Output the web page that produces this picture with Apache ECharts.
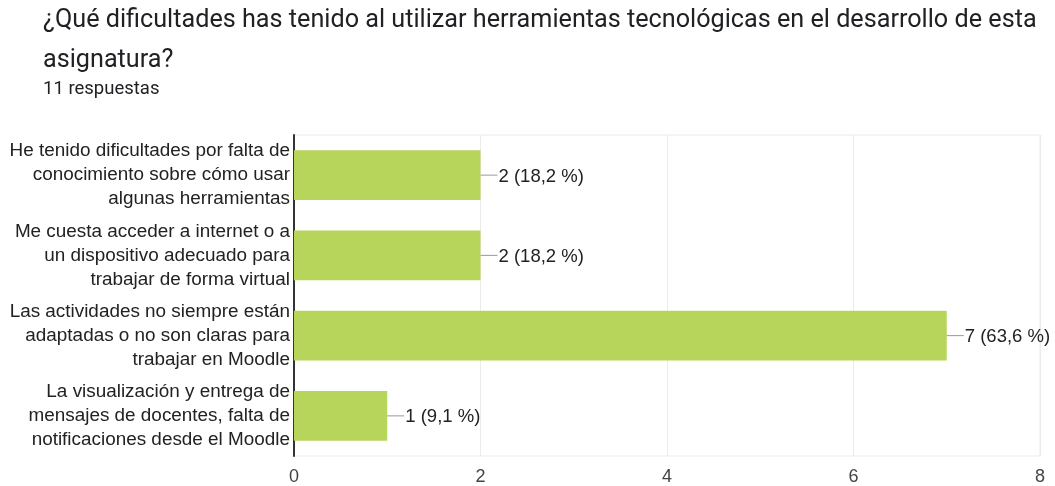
<!DOCTYPE html>
<html>
<head>
<meta charset="utf-8">
<script src="https://cdn.jsdelivr.net/npm/echarts@6/dist/echarts.min.js"></script>
<style>
  html, body { margin: 0; padding: 0; background: #fff; }
  #chart { width: 1055px; height: 486px; }
</style>
</head>
<body>
<div id="chart"></div>
<script>
// datos de la encuesta
var categorias = [
  'He tenido dificultades por falta de\nconocimiento sobre cómo usar\nalgunas herramientas',
  'Me cuesta acceder a internet o a\nun dispositivo adecuado para\ntrabajar de forma virtual',
  'Las actividades no siempre están\nadaptadas o no son claras para\ntrabajar en Moodle',
  'La visualización y entrega de\nmensajes de docentes, falta de\nnotificaciones desde el Moodle'
];
var respuestas = [2, 2, 7, 1];
var totalRespuestas = 11;
var ticksX = [0, 2, 4, 6, 8];

var myChart = echarts.init(document.getElementById('chart'));

var option = {
  animation: false,
  title: [
    {
      text: '¿Qué dificultades has tenido al utilizar herramientas tecnológicas en el desarrollo de esta\nasignatura?',
      left: 43,
      top: 1,
      padding: 0,
      textStyle: {
        fontFamily: 'Roboto',
        fontSize: 25.2,
        fontWeight: 'normal',
        color: '#202124',
        lineHeight: 40
      }
    },
    {
      text: totalRespuestas + ' respuestas',
      left: 43,
      top: 80,
      padding: 0,
      textStyle: {
        fontFamily: 'Roboto',
        fontSize: 18.5,
        fontWeight: 'normal',
        color: '#202124'
      }
    }
  ],
  grid: {
    left: 294,
    right: 15,
    top: 135,
    bottom: 30,
    show: true,
    borderColor: '#ebebeb',
    borderWidth: 1
  },
  xAxis: {
    type: 'value',
    min: ticksX[0],
    max: ticksX[ticksX.length - 1],
    interval: 2,
    axisLine: { show: false },
    axisTick: { show: false },
    splitLine: { lineStyle: { color: '#ebebeb', width: 1 } },
    axisLabel: {
      margin: 12,
      fontFamily: 'Liberation Sans',
      fontSize: 18,
      color: '#444'
    }
  },
  yAxis: {
    type: 'category',
    inverse: true,
    data: categorias,
    axisLine: { lineStyle: { color: '#333', width: 2 } },
    axisTick: { show: false },
    axisLabel: {
      margin: 4,
      fontFamily: 'Liberation Sans',
      fontSize: 18.9,
      lineHeight: 24,
      color: '#222',
      align: 'right'
    }
  },
  series: [
    {
      type: 'bar',
      data: respuestas,
      barCategoryGap: '38%',
      itemStyle: { color: '#b7d55a' },
      label: {
        show: true,
        position: 'right',
        distance: 0,
        formatter: function (p) {
          var pct = (p.value / totalRespuestas * 100).toFixed(1).replace('.', ',');
          return '{l|}{t|' + p.value + ' (' + pct + ' %)}';
        },
        rich: {
          l: { width: 17, height: 1, backgroundColor: '#999' },
          t: {
            fontFamily: 'Liberation Sans',
            fontSize: 18.5,
            color: '#222',
            padding: [3, 0, 0, 1]
          }
        }
      }
    }
  ]
};

myChart.setOption(option);
</script>
</body>
</html>
